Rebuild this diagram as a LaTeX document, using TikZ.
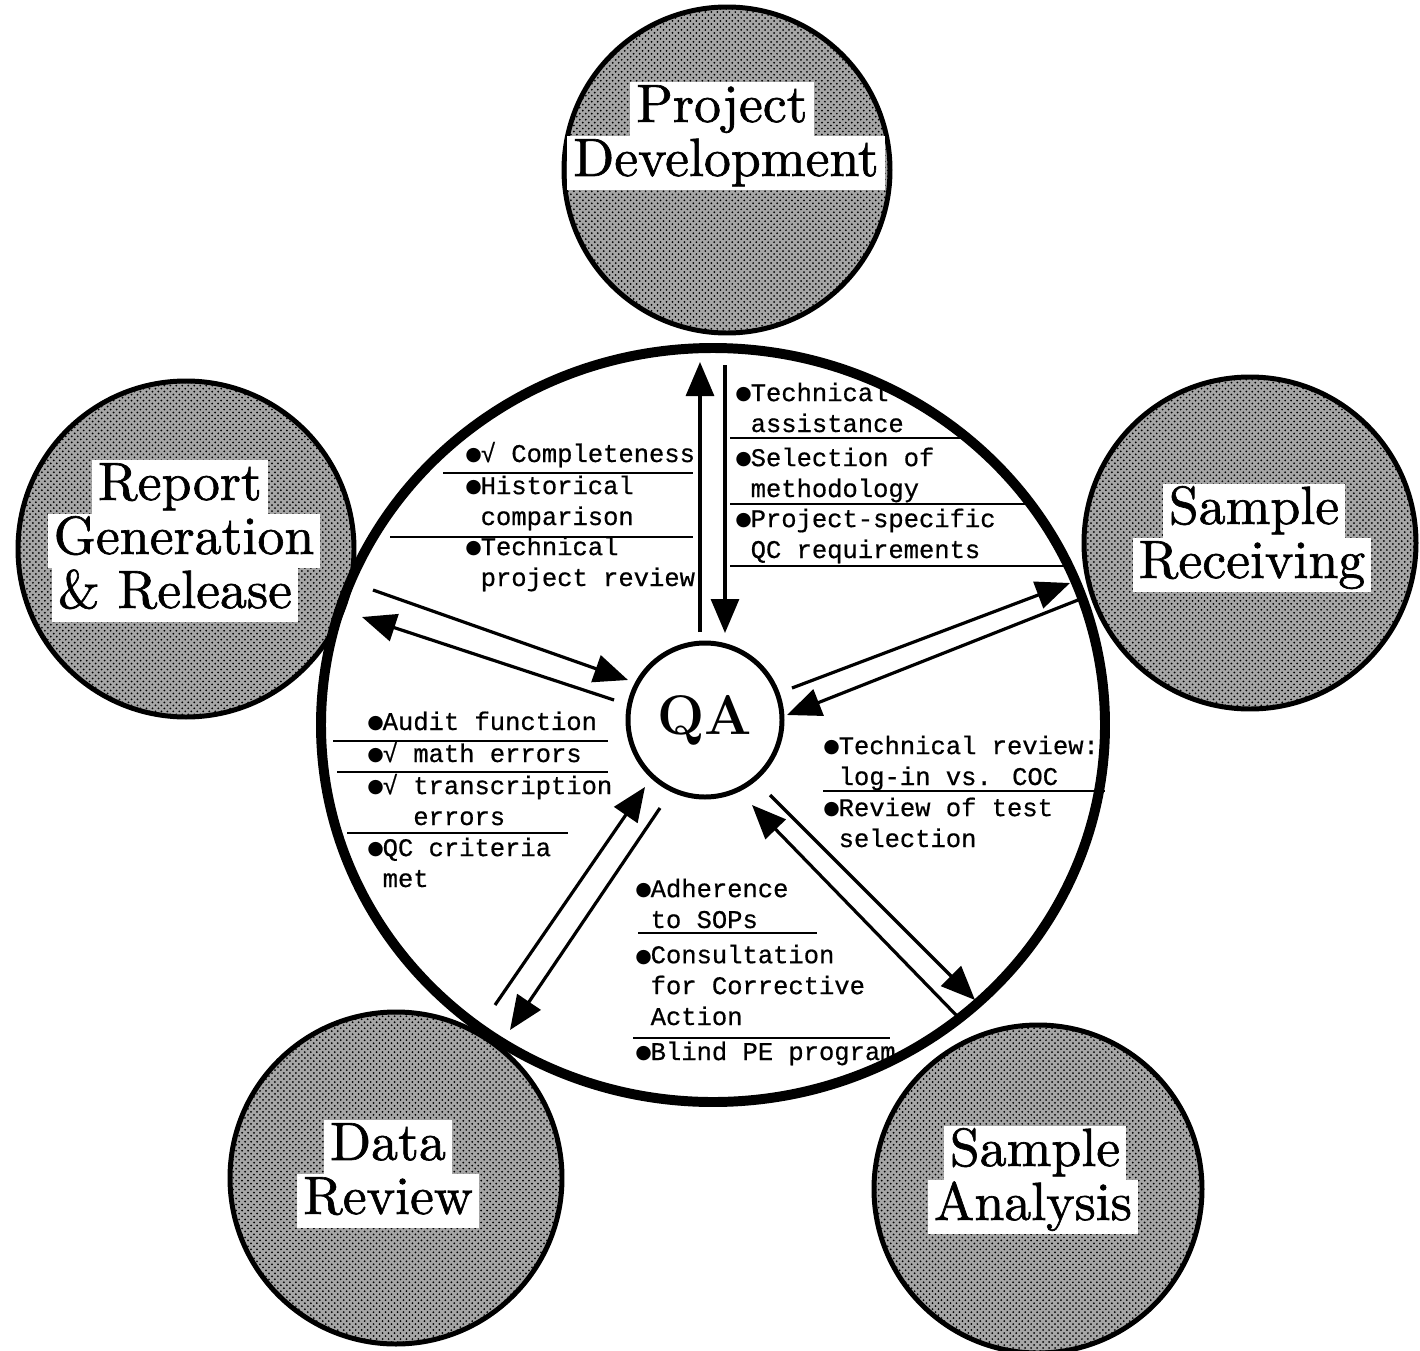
\documentclass[tikz,border=0pt]{standalone}
\usepackage{fontspec}
\newfontfamily\monofam[FakeBold=0.6]{Liberation Mono}
\newfontfamily\symfam{DejaVu Sans}
\newfontfamily\labfam{lmroman10-regular}[Extension=.otf,FakeBold=1.2]
\newcommand\blt{\makebox[7.68pt][l]{\raisebox{0.6pt}{\symfam\fontsize{9.5}{10}\selectfont ●}}}
\newcommand\bltgap{\hspace*{7.68pt}}
\usetikzlibrary{arrows.meta,shapes.geometric,patterns}

\tikzset{
  pod/.style={draw,circle,line width=2.5pt,preaction={fill=gray!70},pattern=crosshatch dots,pattern color=black},
  tag/.style={fill=white,inner xsep=3bp,inner ysep=0pt,text height=20pt,text depth=7pt,font=\labfam\fontsize{27}{30}\selectfont},
  note/.style={anchor=base west,align=left,inner sep=0pt,font=\monofam\fontsize{12.8}{15.5}\selectfont},
  flow/.style={-{Triangle[length=17bp,width=14bp]},line width=1.6pt},
  sepline/.style={line width=1pt},
}

\begin{document}
\begin{tikzpicture}[scale=0.5]
\path[use as bounding box,fill=white] (0bp,0bp) rectangle (1420bp,-1351bp);

% outer stations
\node (PD) at (727bp,-170bp)[pod,minimum size=163bp] {};
\node (RG) at (186bp,-549bp)[pod,minimum size=168bp] {};
\node (SR) at (1250bp,-543bp)[pod,minimum size=166bp] {};
\node (DR) at (396bp,-1178bp)[pod,minimum size=166bp] {};
\node (SA) at (1038bp,-1189bp)[pod,minimum size=164bp] {};

\node (Hub) at (713bp,-725bp)[draw,ellipse,line width=5pt,minimum width=392bp,minimum height=377bp] {};

\node (PD1) at (722bp,-109bp)[tag] {Project};
\node (PD2) at (726bp,-163bp)[tag] {Development};
\node (RG1) at (180bp,-487bp)[tag] {Report};
\node (RG2) at (184bp,-541bp)[tag] {Generation};
\node (RG3) at (175bp,-595bp)[tag] {\& Release};
\node (SR1) at (1254bp,-511bp)[tag] {Sample};
\node (SR2) at (1252bp,-565bp)[tag] {Receiving};
\node (DR1) at (388bp,-1147bp)[tag] {Data};
\node (DR2) at (388bp,-1201bp)[tag] {Review};
\node (SA1) at (1035bp,-1153bp)[tag] {Sample};
\node (SA2) at (1033bp,-1207bp)[tag] {Analysis};

\node (QA) at (705bp,-720bp)[draw,circle,line width=2.5pt,minimum size=77bp,font=\bfseries\fontsize{28}{30}\selectfont] {QA};

% checks along each flow (base = last line)
\node (A1) at (465bp,-462bp)[note] {\blt√ Completeness};
\node (A2) at (465bp,-525bp)[note] {\blt Historical\\\bltgap comparison};
\node (A3) at (465bp,-586bp)[note] {\blt Technical\\\bltgap project review};
\draw [sepline] (443bp,-473bp) -- (693bp,-473bp);
\draw [sepline] (390bp,-537bp) -- (693bp,-537bp);

\node (B1) at (735bp,-432bp)[note] {\blt Technical\\\bltgap assistance};
\node (B2) at (735bp,-497bp)[note] {\blt Selection of\\\bltgap methodology};
\node (B3) at (735bp,-558bp)[note] {\blt Project-specific\\\bltgap QC requirements};
\draw [sepline] (730bp,-438bp) -- (962bp,-438bp);
\draw [sepline] (730bp,-504bp) -- (1027bp,-504bp);
\draw [sepline] (730bp,-566bp) -- (1067bp,-566bp);

\node (C1) at (367bp,-730bp)[note] {\blt Audit function};
\node (C2) at (367bp,-762bp)[note] {\blt√ math errors};
\node (C3) at (367bp,-825bp)[note] {\blt√ transcription\\\bltgap\hphantom{√ }errors};
\node (C4) at (367bp,-887bp)[note] {\blt QC criteria\\\bltgap met};
\draw [sepline] (333bp,-741bp) -- (608bp,-741bp);
\draw [sepline] (337bp,-772bp) -- (608bp,-772bp);
\draw [sepline] (347bp,-833bp) -- (568bp,-833bp);

\node (D1) at (823bp,-785bp)[note] {\blt Technical review:\\\bltgap log-in vs. COC};
\node (D2) at (823bp,-847bp)[note] {\blt Review of test\\\bltgap selection};
\draw [sepline] (823bp,-791bp) -- (1105bp,-791bp);

\node (E1) at (635bp,-928bp)[note] {\blt Adherence\\\bltgap to SOPs};
\node (E2) at (635bp,-1025bp)[note] {\blt Consultation\\\bltgap for Corrective\\\bltgap Action};
\node (E3) at (635bp,-1060bp)[note] {\blt Blind PE program};
\draw [sepline] (638bp,-933bp) -- (817bp,-933bp);
\draw [sepline] (633bp,-1038bp) -- (890bp,-1038bp);

% flow ends
\coordinate (u1) at (700bp,-632bp);
\coordinate (u2) at (700bp,-362bp);
\coordinate (d1) at (725bp,-365bp);
\coordinate (d2) at (725bp,-633bp);
\coordinate (r1) at (373bp,-590bp);
\coordinate (r2) at (628bp,-680bp);
\coordinate (r3) at (614bp,-700bp);
\coordinate (r4) at (362bp,-617bp);
\coordinate (s1) at (792bp,-688bp);
\coordinate (s2) at (1070bp,-583bp);
\coordinate (s3) at (1078bp,-600bp);
\coordinate (s4) at (787bp,-715bp);
\coordinate (v1) at (495bp,-1005bp);
\coordinate (v2) at (645bp,-787bp);
\coordinate (v3) at (660bp,-808bp);
\coordinate (v4) at (510bp,-1030bp);
\coordinate (w1) at (958bp,-1017bp);
\coordinate (w2) at (752bp,-805bp);
\coordinate (w3) at (770bp,-795bp);
\coordinate (w4) at (975bp,-1000bp);

\draw [flow] (u1) to (u2);
\draw [flow] (d1) to (d2);
\draw [flow] (r1) to (r2);
\draw [flow] (r3) to (r4);
\draw [flow] (s1) to (s2);
\draw [flow] (s3) to (s4);
\draw [flow] (v1) to (v2);
\draw [flow] (v3) to (v4);
\draw [flow] (w1) to (w2);
\draw [flow] (w3) to (w4);
\end{tikzpicture}
\end{document}
